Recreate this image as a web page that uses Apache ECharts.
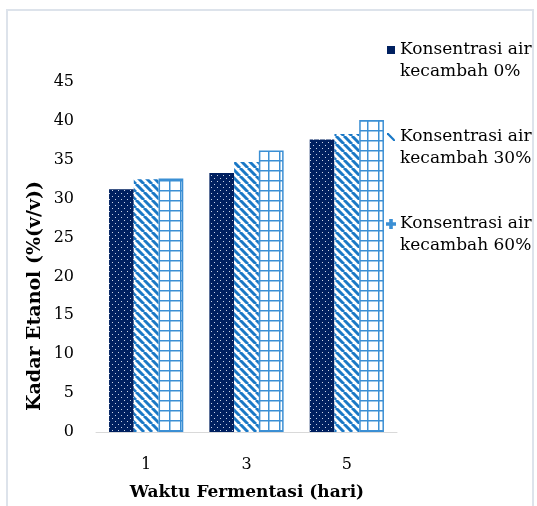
<!DOCTYPE html>
<html>
<head>
<meta charset="utf-8">
<script src="https://cdn.jsdelivr.net/npm/echarts@6/dist/echarts.min.js"></script>
<style>html,body{margin:0;padding:0;background:#fff;}#c{width:537px;height:506px;}</style>
</head>
<body>
<div id="c"></div>
<script>
const categories = ['1', '3', '5'];
const seriesNames = ['Konsentrasi air\nkecambah 0%', 'Konsentrasi air\nkecambah 30%', 'Konsentrasi air\nkecambah 60%'];
const values0 = [31.2, 33.3, 37.6];
const values30 = [32.5, 34.7, 38.3];
const values60 = [32.6, 36.2, 40.1];
const yTicks = [0, 5, 10, 15, 20, 25, 30, 35, 40, 45];
const xTitle = 'Waktu Fermentasi (hari)';
const yTitle = 'Kadar Etanol (%(v/v))';

const NAVY = '#002060', BLUE = '#1a78c6';
const FONT = 'DejaVu Serif';

function mk(w, h, draw) {
  const c = document.createElement('canvas');
  c.width = w; c.height = h;
  draw(c.getContext('2d'));
  return c;
}
const dots = mk(6, 6, g => {
  g.fillStyle = NAVY; g.fillRect(0, 0, 6, 6);
  g.fillStyle = '#c9d3e6';
  g.fillRect(1, 1, 1, 1); g.fillRect(4, 4, 1, 1);
});
const stripes = mk(8, 8, g => {
  g.fillStyle = '#fff'; g.fillRect(0, 0, 8, 8);
  g.strokeStyle = BLUE; g.lineWidth = 3;
  for (const k of [-8, 0, 8]) { g.beginPath(); g.moveTo(k, 0); g.lineTo(k + 8, 8); g.stroke(); }
});
const grid = mk(11, 10, g => {
  g.fillStyle = '#fff'; g.fillRect(0, 0, 11, 10);
  g.fillStyle = '#3b8fd4';
  g.fillRect(0, 0, 11, 1.5);
  g.fillRect(4, 0, 1.5, 10);
});

const chart = echarts.init(document.getElementById('c'), null, {renderer: 'canvas'});
const mkSeries = (name, data, color, extra) => ({
  name, type: 'bar', data, barGap: '0%', barCategoryGap: '26%',
  itemStyle: Object.assign({color: {image: color, repeat: 'repeat'}}, extra || {})
});

chart.setOption({
  animation: false,
  backgroundColor: '#fff',
  grid: {left: 96, right: 140, top: 82, bottom: 74},
  xAxis: {
    type: 'category', data: categories,
    axisLine: {lineStyle: {color: '#d9d9d9', width: 1}},
    axisTick: {show: false},
    axisLabel: {fontFamily: FONT, fontSize: 16, color: '#000', margin: 25}
  },
  yAxis: {
    type: 'value', min: yTicks[0], max: yTicks[yTicks.length - 1], interval: 5,
    axisLine: {show: false}, axisTick: {show: false}, splitLine: {show: false},
    axisLabel: {fontFamily: FONT, fontSize: 16, color: '#000', margin: 22}
  },
  legend: {
    orient: 'vertical', left: 386, top: 17, padding: 0,
    itemWidth: 8, itemHeight: 8, itemGap: 21,
    formatter: name => '\n' + name,
    textStyle: {fontFamily: FONT, fontSize: 17, color: '#000', lineHeight: 22},
    data: [
      {name: seriesNames[0], icon: 'rect', itemStyle: {color: NAVY}},
      {name: seriesNames[1], icon: 'path://M0,0 L2,0 L10,8 L10,10 L8,10 L0,2 Z', itemStyle: {color: BLUE}},
      {name: seriesNames[2], icon: 'path://M4,0 L6,0 L6,4 L10,4 L10,6 L6,6 L6,10 L4,10 L4,6 L0,6 L0,4 L4,4 Z', itemStyle: {color: BLUE}}
    ]
  },
  graphic: [
    {type: 'polyline', silent: true, shape: {points: [[7, 506], [7, 10], [533, 10], [533, 506]]},
     style: {stroke: '#dde3eb', lineWidth: 2, fill: null}},
    {type: 'text', x: 247, y: 493, style: {text: xTitle, font: 'bold 17px "' + FONT + '"', fill: '#000', align: 'center', verticalAlign: 'middle'}},
    {type: 'text', x: 35, y: 296, rotation: Math.PI / 2, style: {text: yTitle, font: 'bold 19px "' + FONT + '"', fill: '#000', align: 'center', verticalAlign: 'middle'}}
  ],
  series: [
    mkSeries(seriesNames[0], values0, dots),
    mkSeries(seriesNames[1], values30, stripes),
    mkSeries(seriesNames[2], values60, grid, {borderColor: '#3b8fd4', borderWidth: 1.5})
  ]
});
</script>
</body>
</html>
